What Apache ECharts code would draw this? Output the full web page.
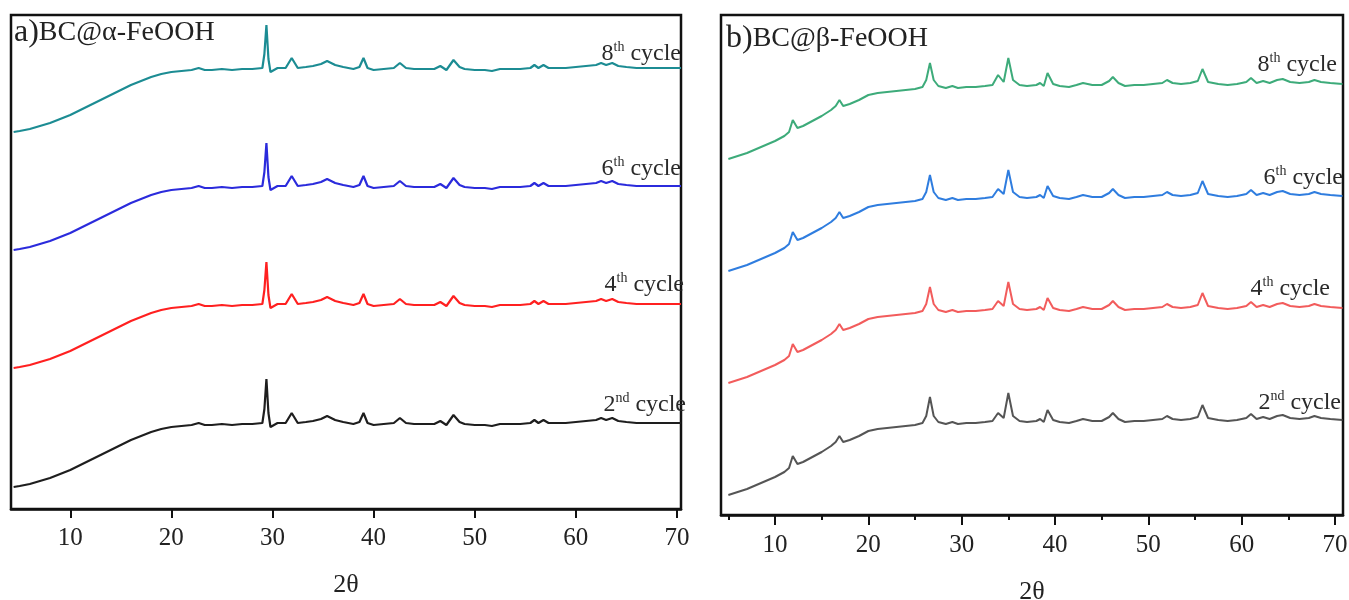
<!DOCTYPE html>
<html>
<head>
<meta charset="utf-8">
<script src="https://cdn.jsdelivr.net/npm/echarts@6/dist/echarts.min.js"></script>
<style>html,body{margin:0;padding:0;background:#fff}#c{width:1349px;height:600px}</style>
</head>
<body>
<div id="c"></div>
<script>
// ---------- Panel a: BC@α-FeOOH ----------
const thetaA = [4.4,5,6,7,8,9,10,11,12,13,14,15,16,17,18,19,20,21,22,22.7,23.3,24,25,26,27,28,29.0,29.2,29.4,29.6,29.8,30.5,31.3,31.9,32.5,33.3,34,34.8,35.4,36.2,37,38,38.6,39.0,39.4,40,41,42,42.6,43.2,44,45,46,46.6,47.2,47.9,48.5,49,50,51,51.7,52.5,53.5,54.5,55.5,55.9,56.3,56.8,57.3,58,59,60,61,62,62.5,63,63.6,64.2,65,66,67,68,69,70,70.4];
const a8 = [377,378,380,383,386,390,394,399,404,409,414,419,424,428,432,435,437,438,439,441,439,439,440,439,440,440,441,455,484,450,437,441,441,451,441,442,443,445,448,444,442,440,442,451,441,439,440,441,446,441,440,440,440,443,439,449,442,440,439,439,438,440,440,440,441,444,441,444,441,441,441,442,443,444,446,444,446,443,442,441,441,441,441,441,441];
const a6 = [259,260,262,265,268,272,276,281,286,291,296,301,306,310,314,317,319,320,321,323,321,321,322,321,322,322,323,337,366,332,319,323,323,333,323,324,325,327,330,326,324,322,324,333,323,321,322,323,328,323,322,322,322,325,321,331,324,322,321,321,320,322,322,322,323,326,323,326,323,323,323,324,325,326,328,326,328,325,324,323,323,323,323,323,323];
const a4 = [141,142,144,147,150,154,158,163,168,173,178,183,188,192,196,199,201,202,203,205,203,203,204,203,204,204,205,219,247,214,201,205,205,215,205,206,207,209,212,208,206,204,206,215,205,203,204,205,210,205,204,204,204,207,203,213,206,204,203,203,202,204,204,204,205,208,205,208,205,205,205,206,207,208,210,208,210,207,206,205,205,205,205,205,205];
const a2 = [22,23,25,28,31,35,39,44,49,54,59,64,69,73,77,80,82,83,84,86,84,84,85,84,85,85,86,100,130,96,82,86,86,96,86,87,88,90,93,89,87,85,87,96,86,84,85,86,91,86,85,85,85,88,84,94,87,85,84,84,83,85,85,85,86,89,86,89,86,86,86,87,88,89,91,89,91,88,87,86,86,86,86,86,86];

// ---------- Panel b: BC@β-FeOOH ----------
const thetaB = [5.0,6,7,8,9,10,11,11.5,11.9,12.4,13,14,15,16,16.5,16.9,17.3,18,19,20,21,22,23,24,25,25.8,26.2,26.6,27.0,27.5,28.3,29.0,29.6,30.5,31.5,32.5,33.3,33.9,34.5,35.0,35.5,36.2,37,38,38.4,38.8,39.2,39.8,40.5,41.5,42.3,43,44,45,45.8,46.2,46.8,47.5,48.5,49.5,50.5,51.5,52.0,52.6,53.5,54.5,55.3,55.8,56.4,57.5,58.5,59.5,60.5,61.0,61.6,62.3,63.0,63.8,64.4,65.2,66.2,67.2,67.8,68.5,69.5,70.8];
const b8 = [356,359,362,366,370,374,379,383,395,387,389,394,399,405,409,415,409,411,415,420,422,423,424,425,426,428,435,452,435,429,427,429,427,428,428,429,430,440,433,457,435,430,429,430,432,429,442,431,429,428,430,432,430,430,434,438,432,429,430,430,431,432,435,432,431,432,434,446,433,431,430,431,433,437,432,434,432,435,436,433,432,433,435,433,432,431];
const b6 = [244,247,250,254,258,262,267,271,283,275,277,282,287,293,297,303,297,299,303,308,310,311,312,313,314,316,323,340,323,317,315,317,315,316,316,317,318,326,321,345,323,318,317,318,320,317,329,319,317,316,318,320,318,318,322,326,320,317,318,318,319,320,323,320,319,320,322,334,321,319,318,319,321,325,320,322,320,323,324,321,320,321,323,321,320,319];
const b4 = [132,135,138,142,146,150,155,159,171,163,165,170,175,181,185,191,185,187,191,196,198,199,200,201,202,204,211,228,211,205,203,205,203,204,204,205,206,214,209,233,211,206,205,206,208,205,217,207,205,204,206,208,206,206,210,214,208,205,206,206,207,208,211,208,207,208,210,222,209,207,206,207,209,213,208,210,208,211,212,209,208,209,211,209,208,207];
const b2 = [20,23,26,30,34,38,43,47,59,51,53,58,63,69,73,79,73,75,79,84,86,87,88,89,90,92,99,118,99,93,91,93,91,92,92,93,94,102,97,122,99,94,93,94,96,93,105,95,93,92,94,96,94,94,98,102,96,93,94,94,95,96,99,96,95,96,98,110,97,95,94,95,97,101,96,98,96,99,100,97,96,97,99,97,96,95];

const majorTicks = [10,20,30,40,50,60,70];
const minorTicks = [5,15,25,35,45,55,65];
const cycleNames = ['8', '6', '4', '2'];
const cycleSup = ['th', 'th', 'th', 'nd'];
const titleA = ['a)', 'BC@α-FeOOH'];
const titleB = ['b)', 'BC@β-FeOOH'];
const axisTitle = '2θ';

const FONT = '"Liberation Serif", "Times New Roman", serif';
const pair = (xs, ys) => xs.map((x, i) => [x, ys[i]]);

const colorsA = ['#1c8c93', '#2b2bdc', '#ff2020', '#1e1e1e'];
const colorsB = ['#3dab7a', '#2f7ddf', '#f25c5c', '#555555'];

function mkX(grid, min, max, gap, margin, tickLen) {
  return {
    type: 'value', gridIndex: grid, min: min, max: max,
    name: axisTitle, nameLocation: 'middle', nameGap: gap,
    nameTextStyle: {fontFamily: FONT, fontSize: 26, color: '#222'},
    axisLine: {show: true, onZero: false, lineStyle: {color: '#111', width: 2.5}},
    axisTick: {show: true, inside: false, length: tickLen, lineStyle: {color: '#111', width: 2}, customValues: majorTicks},
    axisLabel: {fontFamily: FONT, fontSize: 25, color: '#222', margin: margin, customValues: majorTicks},
    splitLine: {show: false}
  };
}

const series = [];
[a8, a6, a4, a2].forEach((d, i) => series.push({
  type: 'line', xAxisIndex: 0, yAxisIndex: 0, data: pair(thetaA, d),
  showSymbol: false, silent: true, lineStyle: {color: colorsA[i], width: 2.2}, itemStyle: {color: colorsA[i]}
}));
[b8, b6, b4, b2].forEach((d, i) => series.push({
  type: 'line', xAxisIndex: 1, yAxisIndex: 1, data: pair(thetaB, d),
  showSymbol: false, silent: true, lineStyle: {color: colorsB[i], width: 2}, itemStyle: {color: colorsB[i]}
}));

function cycleLabel(i, x, y) {
  return {
    type: 'text', silent: true,
    style: {
      x: x, y: y, align: 'right', verticalAlign: 'middle',
      text: '{n|' + cycleNames[i] + '}{s|' + cycleSup[i] + '}{c| cycle}',
      rich: {
        n: {fontFamily: FONT, fontSize: 24, lineHeight: 28, fill: '#2a2a2a'},
        s: {fontFamily: FONT, fontSize: 14, lineHeight: 15, verticalAlign: 'top', fill: '#2a2a2a'},
        c: {fontFamily: FONT, fontSize: 24, lineHeight: 28, fill: '#2a2a2a'}
      }
    }
  };
}
function panelTitle(t, x, y) {
  return {
    type: 'text', silent: true,
    style: {
      x: x, y: y, align: 'left', verticalAlign: 'middle',
      text: '{p|' + t[0] + '}{t|' + t[1] + '}',
      rich: {
        p: {fontFamily: FONT, fontSize: 32, lineHeight: 36, fill: '#222'},
        t: {fontFamily: FONT, fontSize: 28, lineHeight: 36, fill: '#222'}
      }
    }
  };
}

const option = {
  backgroundColor: '#fff',
  animation: false,
  grid: [
    {left: 11, right: 668, top: 15, bottom: 91, show: true, borderColor: '#111', borderWidth: 2.5, backgroundColor: 'transparent', containLabel: false, outerBoundsMode: 'none'},
    {left: 721, right: 6, top: 15, bottom: 85, show: true, borderColor: '#111', borderWidth: 2.5, backgroundColor: 'transparent', containLabel: false, outerBoundsMode: 'none'}
  ],
  xAxis: [
    mkX(0, 4.14, 70.4, 63, 17, 9),
    mkX(1, 4.21, 70.86, 64, 18, 10),
    {type: 'value', gridIndex: 1, min: 4.21, max: 70.86, position: 'bottom',
     axisLine: {show: false}, axisLabel: {show: false}, splitLine: {show: false},
     axisTick: {show: true, length: 5, lineStyle: {color: '#111', width: 2}, customValues: minorTicks}}
  ],
  yAxis: [
    {type: 'value', gridIndex: 0, min: 0, max: 494, show: false, splitLine: {show: false}},
    {type: 'value', gridIndex: 1, min: 0, max: 500, show: false, splitLine: {show: false}}
  ],
  series: series,
  graphic: [
    panelTitle(titleA, 14, 33),
    panelTitle(titleB, 726, 39),
    cycleLabel(0, 681, 54), cycleLabel(1, 681, 169), cycleLabel(2, 684, 285), cycleLabel(3, 686, 405),
    cycleLabel(0, 1337, 65), cycleLabel(1, 1343, 178), cycleLabel(2, 1330, 289), cycleLabel(3, 1341, 403)
  ]
};

const chart = echarts.init(document.getElementById('c'), null, {renderer: 'canvas'});
chart.setOption(option);
</script>
</body>
</html>
